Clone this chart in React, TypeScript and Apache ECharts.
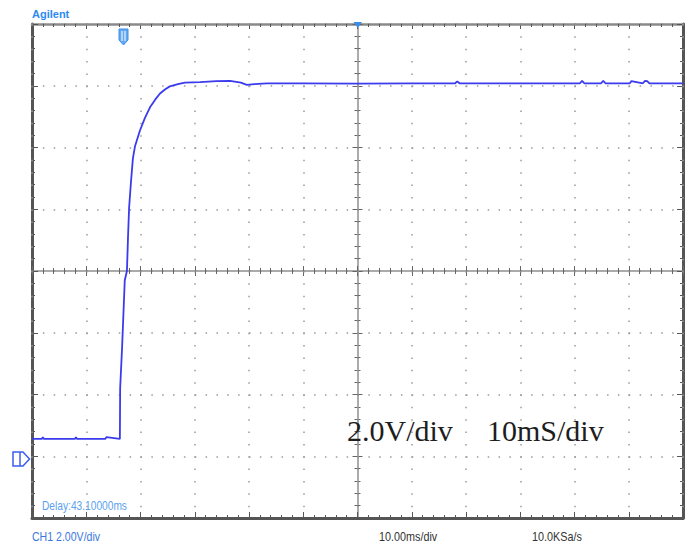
import React, { useEffect, useRef } from "react";
import * as echarts from "echarts";

// Time (ms from left edge of screen, 10 ms/div, 12 divisions)
const timeMs = [
  0, 1.8, 2.0, 2.2, 7.9, 8.1, 8.3, 13.5, 13.7, 16.2,
  16.25, 16.6, 16.85, 17.1, 17.5, 17.7, 17.9, 18.25, 18.6, 19.0,
  19.9, 20.8, 21.75, 22.7, 23.6, 24.5, 25.4, 26.9, 28.2, 31.0,
  34.0, 36.5, 38.5, 39.6, 41.0, 43.3, 50.0, 60.0, 70.0, 78.0,
  78.4, 78.8, 90.0, 101.0, 101.4, 101.8, 104.9, 105.3, 105.7, 110.2,
  110.5, 112.6, 113.0, 113.4, 113.8, 120.0,
];
// Channel 1 voltage (2.0 V/div, ground reference at 0 V)
const volts = [
  0.56, 0.56, 0.62, 0.56, 0.56, 0.62, 0.56, 0.56, 0.62, 0.56,
  2.2, 3.5, 4.6, 5.7, 6.0, 7.1, 8.05, 8.9, 9.65, 10.05,
  10.55, 10.95, 11.3, 11.55, 11.75, 11.88, 11.98, 12.05, 12.1, 12.12,
  12.15, 12.16, 12.1, 12.03, 12.05, 12.08, 12.08, 12.07, 12.08, 12.08,
  12.14, 12.08, 12.08, 12.08, 12.16, 12.08, 12.08, 12.16, 12.08, 12.08,
  12.15, 12.08, 12.16, 12.15, 12.08, 12.08,
];

const xTicks = { min: 0, max: 120, interval: 10 };
const yTicks = { min: -2, max: 14, interval: 2 };

const titleText = "Agilent";
const delayText = "Delay:43.10000ms";
const chText = "CH1 2.00V/div";
const timeBaseText = "10.00ms/div";
const sampleText = "10.0KSa/s";
const voltNote = "2.0V/div";
const timeNote = "10mS/div";

export default function App() {
  const ref = useRef<HTMLDivElement>(null);

  useEffect(() => {
    if (!ref.current) return;
    const chart = echarts.init(ref.current, null, { renderer: "svg" });

    const borderDark = "#555555";
    const borderLight = "#8a8a8a";
    const gridDot = "#9a9a9a";
    const centerCol = "#8f8f8f";

    const baseX = (extra: any) => ({
      type: "value",
      min: xTicks.min,
      max: xTicks.max,
      interval: xTicks.interval,
      axisLabel: { show: false },
      splitLine: { show: false },
      ...extra,
    });
    const baseY = (extra: any) => ({
      type: "value",
      min: yTicks.min,
      max: yTicks.max,
      interval: yTicks.interval,
      axisLabel: { show: false },
      splitLine: { show: false },
      ...extra,
    });

    const option: any = {
      animation: false,
      backgroundColor: "#ffffff",
      grid: { left: 32, top: 24, right: 10, bottom: 29, containLabel: false },
      xAxis: [
        baseX({
          position: "bottom",
          axisLine: { onZero: false, lineStyle: { color: borderDark, width: 3 } },
          axisTick: { inside: true, length: 6, lineStyle: { color: borderDark, width: 1 } },
          minorTick: { show: true, splitNumber: 5, length: 3, lineStyle: { color: borderDark, width: 1 } },
          splitLine: { show: true, lineStyle: { color: gridDot, width: 1.5, type: [1.5, 10.85], dashOffset: 0 } },
          z: 5,
        }),
        baseX({
          position: "top",
          axisLine: { onZero: false, lineStyle: { color: borderLight, width: 2.5 } },
          axisTick: { inside: true, length: 5, lineStyle: { color: borderDark, width: 1 } },
          minorTick: { show: true, splitNumber: 5, length: 3, lineStyle: { color: borderDark, width: 1 } },
        }),
        baseX({
          position: "bottom",
          offset: -247,
          axisLine: { onZero: false, lineStyle: { color: centerCol, width: 1.5 } },
          axisTick: { inside: true, length: 5, lineStyle: { color: "#666", width: 1 } },
          minorTick: { show: true, splitNumber: 5, length: 3, lineStyle: { color: "#666", width: 1 } },
        }),
        baseX({
          position: "bottom",
          offset: -247,
          axisLine: { onZero: false, show: false },
          axisTick: { inside: false, length: 5, lineStyle: { color: "#666", width: 1 } },
          minorTick: { show: true, splitNumber: 5, length: 3, lineStyle: { color: "#666", width: 1 } },
        }),
      ],
      yAxis: [
        baseY({
          position: "left",
          axisLine: { onZero: false, lineStyle: { color: borderDark, width: 3 } },
          axisTick: { inside: true, length: 6, lineStyle: { color: borderDark, width: 1 } },
          minorTick: { show: true, splitNumber: 5, length: 3, lineStyle: { color: borderDark, width: 1 } },
          splitLine: { show: true, lineStyle: { color: gridDot, width: 1.5, type: [1.5, 9.35], dashOffset: 0 } },
        }),
        baseY({
          position: "right",
          axisLine: { onZero: false, lineStyle: { color: borderDark, width: 3 } },
          axisTick: { inside: true, length: 6, lineStyle: { color: borderDark, width: 1 } },
          minorTick: { show: true, splitNumber: 5, length: 3, lineStyle: { color: borderDark, width: 1 } },
        }),
        baseY({
          position: "left",
          offset: -325.5,
          axisLine: { onZero: false, lineStyle: { color: centerCol, width: 1.5 } },
          axisTick: { inside: true, length: 5, lineStyle: { color: "#666", width: 1 } },
          minorTick: { show: true, splitNumber: 5, length: 3, lineStyle: { color: "#666", width: 1 } },
        }),
        baseY({
          position: "left",
          offset: -325.5,
          axisLine: { onZero: false, show: false },
          axisTick: { inside: false, length: 5, lineStyle: { color: "#666", width: 1 } },
          minorTick: { show: true, splitNumber: 5, length: 3, lineStyle: { color: "#666", width: 1 } },
        }),
      ],
      series: [
        {
          type: "line",
          xAxisIndex: 0,
          yAxisIndex: 0,
          data: timeMs.map((t, i) => [t, volts[i]]),
          showSymbol: false,
          symbol: "none",
          lineStyle: { color: "#3b3bee", width: 1.8 },
          z: 10,
        },
      ],
      graphic: [
        {
          type: "text",
          left: 32,
          top: 8,
          style: { text: titleText, fill: "#2b8af0", font: "bold 11px 'Liberation Sans', Arial, sans-serif" },
        },
        {
          type: "polygon",
          shape: { points: [[119, 29], [128, 29], [128, 40], [123.5, 45], [119, 40]] },
          style: { fill: "#62a8f2", stroke: "#3e8ee8", lineWidth: 1 },
          z: 20,
        },
        { type: "line", shape: { x1: 122, y1: 31, x2: 122, y2: 41 }, style: { stroke: "#ffffff", lineWidth: 1 }, z: 21 },
        { type: "line", shape: { x1: 125, y1: 31, x2: 125, y2: 41 }, style: { stroke: "#ffffff", lineWidth: 1 }, z: 21 },
        {
          type: "polygon",
          shape: { points: [[353.5, 22], [362, 22], [357.75, 28]] },
          style: { fill: "#3a8ee6" },
          z: 20,
        },
        {
          type: "polygon",
          shape: { points: [[13, 452], [23, 452], [29.5, 459], [23, 466], [13, 466]] },
          style: { fill: "#ffffff", stroke: "#3c5ef0", lineWidth: 1.5 },
          z: 20,
        },
        { type: "line", shape: { x1: 20, y1: 452, x2: 20, y2: 466 }, style: { stroke: "#3c5ef0", lineWidth: 1.5 }, z: 21 },
        {
          type: "text",
          x: 42,
          y: 506,
          scaleX: 0.85,
          style: { text: delayText, fill: "#5a9ff0", font: "12px 'Liberation Sans', Arial, sans-serif", verticalAlign: "middle" },
          z: 20,
        },
        {
          type: "text",
          x: 32,
          y: 537,
          scaleX: 0.88,
          style: { text: chText, fill: "#3a78e0", font: "12px 'Liberation Sans', Arial, sans-serif", verticalAlign: "middle" },
        },
        {
          type: "text",
          x: 379,
          y: 537,
          scaleX: 0.9,
          style: { text: timeBaseText, fill: "#333333", font: "12px 'Liberation Sans', Arial, sans-serif", verticalAlign: "middle" },
        },
        {
          type: "text",
          x: 532,
          y: 537,
          scaleX: 0.9,
          style: { text: sampleText, fill: "#333333", font: "12px 'Liberation Sans', Arial, sans-serif", verticalAlign: "middle" },
        },
        {
          type: "text",
          x: 347,
          y: 430,
          style: { text: voltNote, fill: "#1e1e1e", font: "30px 'Liberation Serif', 'Times New Roman', serif", verticalAlign: "middle" },
          z: 20,
        },
        {
          type: "text",
          x: 487,
          y: 430,
          style: { text: timeNote, fill: "#1e1e1e", font: "30px 'Liberation Serif', 'Times New Roman', serif", verticalAlign: "middle" },
          z: 20,
        },
      ],
    };

    chart.setOption(option);
    return () => chart.dispose();
  }, []);

  return (
    <div
      ref={ref}
      style={{ position: "fixed", left: 0, top: 0, width: 693, height: 547, background: "#ffffff" }}
    />
  );
}
